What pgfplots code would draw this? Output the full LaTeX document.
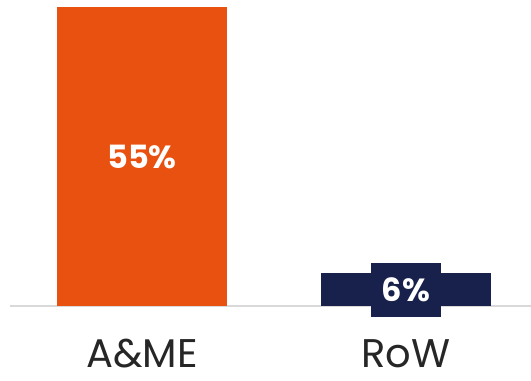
\documentclass[border=0pt]{standalone}
\usepackage{fontspec}
\setmainfont{Poppins}
\usepackage{pgfplots}
\pgfplotsset{compat=1.18}
\definecolor{barorange}{HTML}{E8510F}
\definecolor{barnavy}{HTML}{17214B}
\definecolor{txtgray}{HTML}{262626}
\definecolor{basegray}{HTML}{D9D9D9}
\begin{document}
\begin{tikzpicture}
\useasboundingbox (0,0) rectangle (531bp,381bp);
\begin{axis}[
  at={(0,0)}, anchor=south west,
  scale only axis, width=531bp, height=381bp,
  xmin=-0.53788, xmax=1.47348,
  ymin=-13.796, ymax=56.2876,
  hide axis, clip=false,
]
% baseline
\addplot[basegray, line width=2bp, mark=none] coordinates {(-0.5,0) (1.48,0)};
% bars
\addplot[ybar, bar width=0.644, bar shift=0pt, fill=barorange, draw=none] coordinates {(0,55)};
\addplot[ybar, bar width=0.644, bar shift=0pt, fill=barnavy, draw=none] coordinates {(1,6)};
% value labels
\addplot[draw=none, mark=none, point meta=explicit symbolic,
  nodes near coords,
  every node near coord/.append style={anchor=center, text=white,
    font=\fontsize{32bp}{36bp}\selectfont\bfseries}]
  coordinates {(0,27.5) [55\%]};
\addplot[draw=none, mark=none, point meta=explicit symbolic,
  nodes near coords,
  every node near coord/.append style={anchor=center, text=white, fill=barnavy,
    minimum width=70bp, minimum height=54bp, inner sep=0pt,
    font=\fontsize{32bp}{36bp}\selectfont\bfseries}]
  coordinates {(1,2.9) [6\%]};
% category labels
\addplot[draw=none, mark=none, point meta=explicit symbolic,
  nodes near coords,
  every node near coord/.append style={anchor=base, text=txtgray, inner sep=0pt,
    font=\fontsize{40bp}{44bp}\selectfont}]
  coordinates {(0,-11.3) [A\&ME] (1,-11.3) [RoW]};
\end{axis}
\end{tikzpicture}
\end{document}
